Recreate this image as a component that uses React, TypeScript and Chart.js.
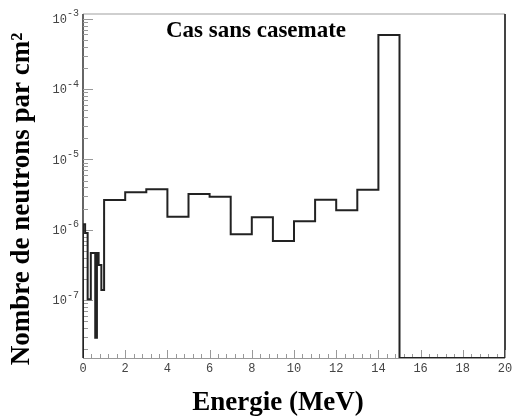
import React, { useEffect, useRef } from "react";
import { Chart, registerables } from "chart.js";

Chart.register(...registerables);

// Bin edges (MeV) and neutron counts per bin (neutrons / cm²)
const binEdges = [0, 0.1, 0.22, 0.37, 0.58, 0.66, 0.74, 0.87, 1, 2, 3, 4, 5, 6, 7, 8, 9, 10, 11, 12, 13, 14, 15, 20];
const binValues = [
  1.2e-6, 8.97e-7, 1.03e-7, 4.66e-7, 2.9e-8, 4.66e-7, 3.15e-7, 1.39e-7,
  2.65e-6, 3.4e-6, 3.76e-6, 1.53e-6, 3.22e-6, 2.95e-6, 8.6e-7, 1.5e-6,
  6.9e-7, 1.32e-6, 2.67e-6, 1.89e-6, 3.71e-6, 5.9e-4, 0,
];
const xTicks = [0, 2, 4, 6, 8, 10, 12, 14, 16, 18, 20];
const yDecades = [-7, -6, -5, -4, -3];
const titleText = "Cas sans casemate";
const xTitle = "Energie (MeV)";
const yTitle = "Nombre de neutrons par cm²";

const Y_MIN = 1.5e-8;
const Y_MAX = 1.17e-3;

function buildPoints() {
  // points at the right edge of each bin, stepped "before" => horizontal at the bin value
  const pts: { x: number; y: number }[] = [];
  pts.push({ x: binEdges[0], y: Y_MIN });
  for (let i = 0; i < binValues.length; i++) {
    const v = binValues[i] > Y_MIN ? binValues[i] : Y_MIN;
    pts.push({ x: binEdges[i], y: v });
    pts.push({ x: binEdges[i + 1], y: v });
  }
  pts.push({ x: binEdges[binEdges.length - 1], y: Y_MIN });
  return pts;
}

const framePlugin = {
  id: "rootFrame",
  beforeDatasetsDraw(chart: any) {
    const { ctx, chartArea: a, scales } = chart;
    const xs = scales.x;
    const ys = scales.y;
    ctx.save();
    ctx.strokeStyle = "#cfcfcf";
    ctx.lineWidth = 2;
    ctx.beginPath();
    ctx.moveTo(a.left, a.top);
    ctx.lineTo(a.right, a.top);
    ctx.stroke();
    ctx.strokeStyle = "#444";
    ctx.lineWidth = 2;
    ctx.beginPath();
    ctx.moveTo(a.right, a.top);
    ctx.lineTo(a.right, a.bottom);
    ctx.stroke();
    ctx.strokeStyle = "#999";
    ctx.lineWidth = 1;
    ctx.beginPath();
    ctx.moveTo(a.left, a.bottom + 0.5);
    ctx.lineTo(a.right, a.bottom + 0.5);
    ctx.stroke();
    for (let v = 0; v <= 20.001; v += 0.4) {
      const px = Math.round(xs.getPixelForValue(v)) + 0.5;
      const major = Math.abs(v / 2 - Math.round(v / 2)) < 1e-6;
      ctx.beginPath();
      ctx.moveTo(px, a.bottom);
      ctx.lineTo(px, a.bottom - (major ? 8 : 4));
      ctx.stroke();
    }
    ctx.strokeStyle = "#666";
    ctx.lineWidth = 2;
    ctx.beginPath();
    ctx.moveTo(a.left, a.top);
    ctx.lineTo(a.left, a.bottom);
    ctx.stroke();
    ctx.strokeStyle = "#999";
    ctx.lineWidth = 1;
    for (let d = -8; d <= -3; d++) {
      for (let k = 1; k <= 9; k++) {
        const v = k * Math.pow(10, d);
        if (v < Y_MIN || v > Y_MAX) continue;
        const py = Math.round(ys.getPixelForValue(v)) + 0.5;
        ctx.beginPath();
        ctx.moveTo(a.left, py);
        ctx.lineTo(a.left + (k === 1 ? 10 : 5), py);
        ctx.stroke();
      }
    }
    ctx.restore();
  },
  afterDraw(chart: any) {
    const { ctx, chartArea: a, scales } = chart;
    const xs = scales.x;
    const ys = scales.y;
    ctx.save();
    ctx.fillStyle = "#444";
    ctx.font = "12px 'Liberation Mono'";
    ctx.textAlign = "center";
    ctx.textBaseline = "middle";
    xTicks.forEach((t) => {
      ctx.fillText(String(t), xs.getPixelForValue(t), a.bottom + 11);
    });
    yDecades.forEach((d) => {
      const py = ys.getPixelForValue(Math.pow(10, d));
      ctx.font = "12px 'Liberation Mono'";
      ctx.textAlign = "right";
      ctx.fillText("10", 67, py + 1);
      ctx.font = "10px 'Liberation Mono'";
      ctx.textAlign = "left";
      ctx.fillText(String(d), 67, py - 5);
    });
    ctx.fillStyle = "#000";
    ctx.textAlign = "center";
    ctx.font = "bold 23px 'Liberation Serif'";
    ctx.fillText(titleText, 256, 31);
    ctx.font = "bold 27px 'Liberation Serif'";
    ctx.fillText(xTitle, 278, 403);
    ctx.translate(22, 199);
    ctx.rotate(-Math.PI / 2);
    ctx.font = "bold 27px 'Liberation Serif'";
    ctx.fillText(yTitle, 0, 0);
    ctx.restore();
  },
};

export default function App() {
  const ref = useRef<HTMLCanvasElement | null>(null);
  useEffect(() => {
    if (!ref.current) return;
    const chart = new Chart(ref.current, {
      type: "line",
      data: {
        datasets: [
          {
            data: buildPoints(),
            borderColor: "#222",
            borderWidth: 2,
            pointRadius: 0,
            fill: false,
            tension: 0,
          },
        ],
      },
      options: {
        responsive: false,
        animation: false,
        layout: { padding: { left: 83, right: 7, top: 14, bottom: 60 } },
        plugins: { legend: { display: false }, tooltip: { enabled: false } },
        scales: {
          x: { type: "linear", min: 0, max: 20, display: false },
          y: { type: "logarithmic", min: Y_MIN, max: Y_MAX, display: false },
        },
      },
      plugins: [framePlugin],
    });
    return () => chart.destroy();
  }, []);
  return (
    <div style={{ position: "fixed", left: 0, top: 0, width: 512, height: 418, background: "#fff" }}>
      <canvas ref={ref} width={512} height={418} />
    </div>
  );
}
